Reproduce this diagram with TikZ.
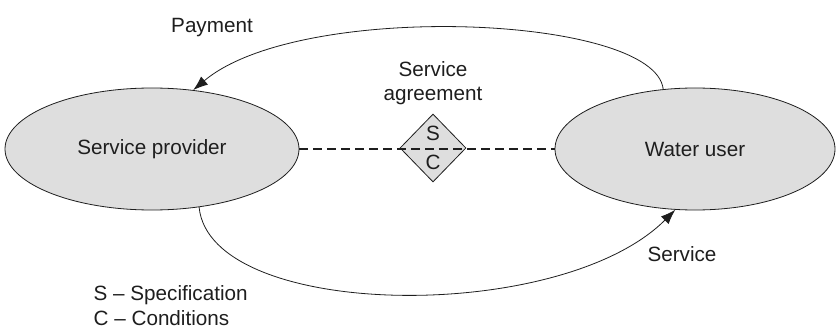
\documentclass[tikz,border=0pt]{standalone}
\usepackage{fontspec}
\setmainfont{Liberation Sans}
\usepackage{xcolor}
\usepackage{tikz}
\usetikzlibrary{positioning,arrows.meta,shapes.geometric}

\definecolor{partygray}{RGB}{222,222,222}
\definecolor{inkgray}{RGB}{30,30,30}

\begin{document}
\begin{tikzpicture}[x=0.75pt,y=-0.75pt,
    party/.style={ellipse, draw=inkgray, line width=0.6pt, fill=partygray, inner sep=0pt},
    deal/.style={diamond, draw=inkgray, line width=0.6pt, fill=partygray, inner sep=0pt,
        minimum width=49.5pt, minimum height=51pt, align=center},
    flow/.style={draw=inkgray, line width=0.6pt, -{Latex[length=11pt,width=8pt]}},
    txt/.style={text=inkgray, font=\fontsize{15.5}{18.5}\selectfont}]
    \useasboundingbox (0,0) rectangle (839,335);

    % Parties
    \node[party, txt, minimum width=220.5pt, minimum height=91.5pt] (provider) at (152,149) {Service provider};
    \node[party, txt, minimum width=210pt, minimum height=91.5pt] (user) at (695,149) {Water user};

    % Service agreement
    \node[deal, txt] (agreement) at (433,148) {S\\[3pt]C};
    \draw[inkgray, line width=1.2pt, dash pattern=on 6.5pt off 4pt] (provider.east) -- (user.west);

    % Payment and service
    \draw[flow] (user.118) .. controls (655,15) and (300,0) .. (provider.55);
    \draw[flow] (provider.-51) .. controls (210,320) and (560,325) .. (user.-108);

    % Labels
    \node[txt, align=center] (agreetext) at (433,83) {Service\\agreement};
    \node[txt] (paytext) at (212,28) {Payment};
    \node[txt] (servtext) at (682,254) {Service};
    \node[txt, anchor=west] (keys) at (89,295) {S -- Specification};
    \node[txt, anchor=west] (keyc) at (89,318) {C -- Conditions};
\end{tikzpicture}
\end{document}
